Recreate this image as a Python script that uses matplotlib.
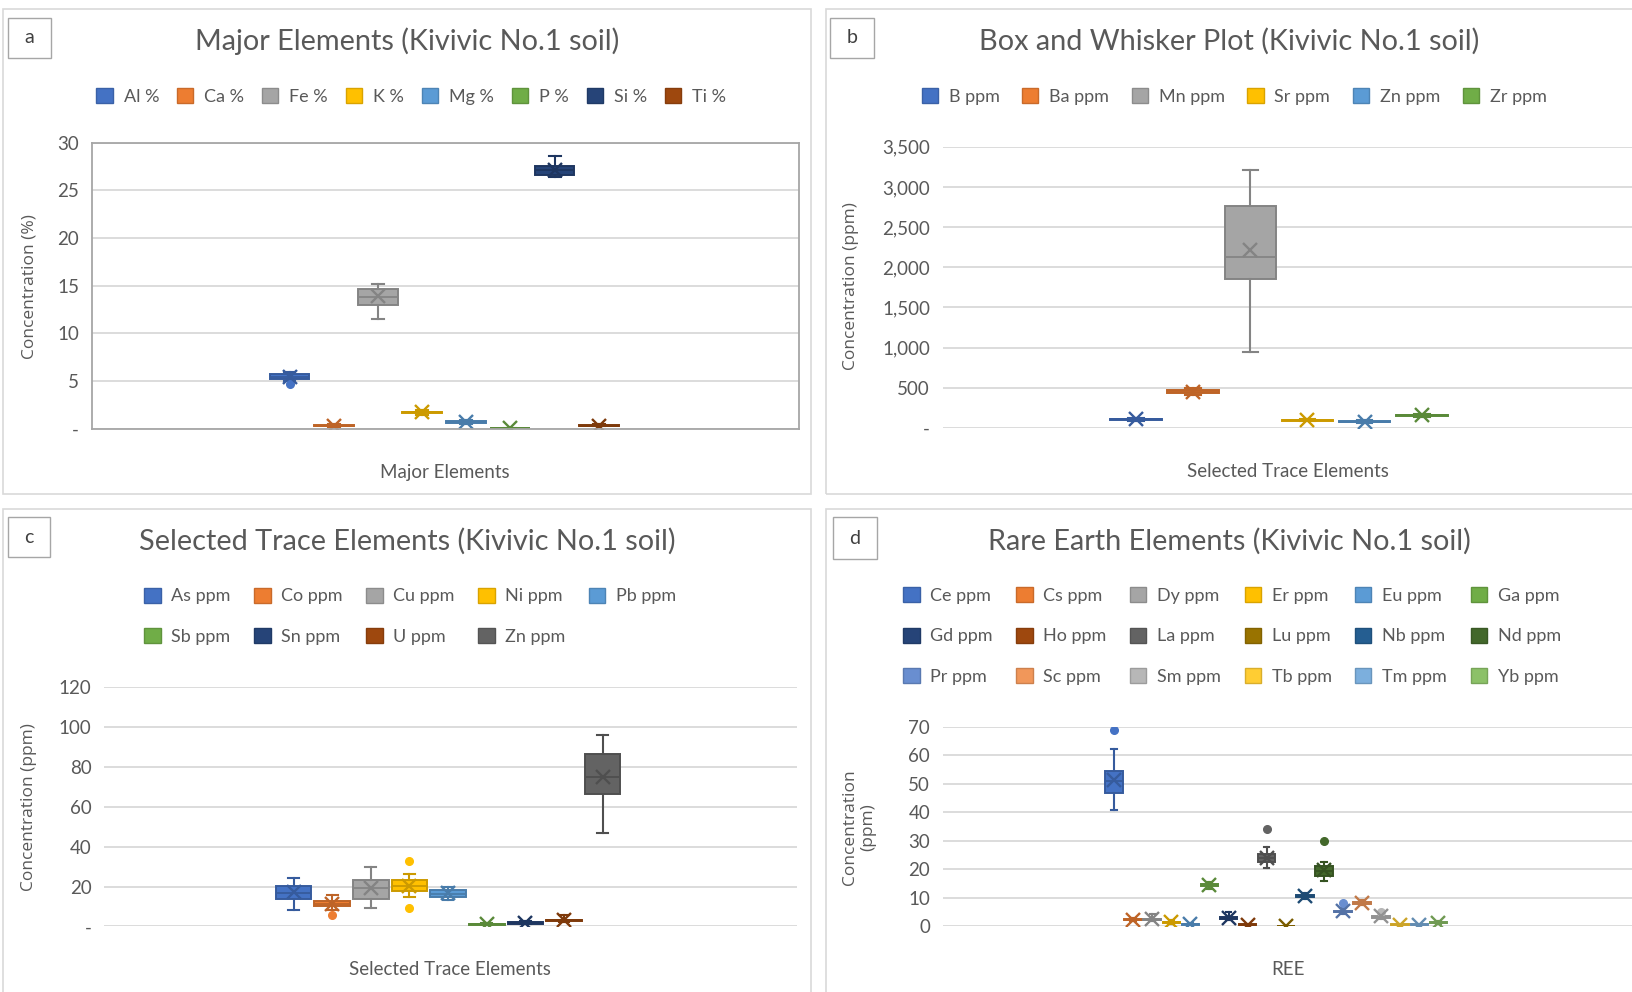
import numpy as np
import matplotlib
matplotlib.use('Agg')
import matplotlib.pyplot as plt
import matplotlib.colors as mcolors
from matplotlib.patches import Rectangle, Patch
from matplotlib.ticker import FuncFormatter, MultipleLocator

plt.rcParams['font.family'] = ['Lato', 'DejaVu Sans']
TXT = '#595959'
GRID = '#D9D9D9'

# ---- panel a : major elements (%)
maj_names = ['Al %', 'Ca %', 'Fe %', 'K %', 'Mg %', 'P %', 'Si %', 'Ti %']
maj_colors = ['#4472C4', '#ED7D31', '#A5A5A5', '#FFC000', '#5B9BD5', '#70AD47', '#264478', '#9E480E']
maj_lo = [5.0, 0.2, 11.5, 1.5, 0.5, 0.03, 26.4, 0.25]
maj_q1 = [5.2, 0.3, 13.0, 1.65, 0.62, 0.05, 26.6, 0.3]
maj_med = [5.4, 0.35, 13.8, 1.72, 0.7, 0.07, 27.1, 0.35]
maj_q3 = [5.7, 0.42, 14.7, 1.8, 0.78, 0.09, 27.5, 0.42]
maj_hi = [6.0, 0.5, 15.2, 1.95, 0.9, 0.12, 28.6, 0.5]
maj_mean = [5.4, 0.35, 13.9, 1.72, 0.7, 0.07, 27.1, 0.35]
maj_fliers = [[4.7], [], [], [], [], [], [], []]

# ---- panel b : selected trace elements (ppm)
trb_names = ['B ppm', 'Ba ppm', 'Mn ppm', 'Sr ppm', 'Zn ppm', 'Zr ppm']
trb_colors = ['#4472C4', '#ED7D31', '#A5A5A5', '#FFC000', '#5B9BD5', '#70AD47']
trb_lo = [85, 410, 940, 80, 55, 135]
trb_q1 = [95, 435, 1850, 90, 68, 148]
trb_med = [104, 450, 2130, 96, 75, 155]
trb_q3 = [112, 465, 2765, 103, 82, 162]
trb_hi = [125, 490, 3210, 115, 95, 175]
trb_mean = [104, 450, 2215, 96, 75, 155]
trb_fliers = [[], [], [], [], [], []]

# ---- panel c : selected trace elements (ppm)
trc_names = ['As ppm', 'Co ppm', 'Cu ppm', 'Ni ppm', 'Pb ppm', 'Sb ppm', 'Sn ppm', 'U ppm', 'Zn ppm']
trc_colors = ['#4472C4', '#ED7D31', '#A5A5A5', '#FFC000', '#5B9BD5', '#70AD47', '#264478', '#9E480E', '#636363']
trc_lo = [8.1, 8.3, 9.1, 14.9, 13.0, 0.5, 1.0, 2.0, 47.0]
trc_q1 = [13.7, 10.0, 13.9, 17.7, 14.7, 0.8, 1.4, 2.6, 66.4]
trc_med = [17.0, 11.3, 19.3, 20.1, 16.5, 1.0, 1.7, 3.0, 74.9]
trc_q3 = [20.3, 12.7, 23.4, 23.4, 18.5, 1.2, 2.0, 3.4, 86.2]
trc_hi = [24.3, 15.5, 30.0, 26.2, 19.6, 1.6, 2.5, 5.8, 96.1]
trc_mean = [17.2, 11.0, 19.3, 20.3, 16.6, 1.0, 1.7, 3.2, 75.0]
trc_fliers = [[], [5.9], [], [33.0, 9.1], [], [], [], [], []]

# ---- panel d : rare earth elements (ppm)
ree_names = ['Ce ppm', 'Cs ppm', 'Dy ppm', 'Er ppm', 'Eu ppm', 'Ga ppm',
             'Gd ppm', 'Ho ppm', 'La ppm', 'Lu ppm', 'Nb ppm', 'Nd ppm',
             'Pr ppm', 'Sc ppm', 'Sm ppm', 'Tb ppm', 'Tm ppm', 'Yb ppm']
ree_colors = ['#4472C4', '#ED7D31', '#A5A5A5', '#FFC000', '#5B9BD5', '#70AD47',
              '#264478', '#9E480E', '#636363', '#997300', '#255E91', '#43682B',
              '#698ED0', '#F1975A', '#B7B7B7', '#FFCD33', '#7CAFDD', '#8CC168']
ree_lo = [40.7, 1.8, 1.8, 1.0, 0.4, 13.2, 2.2, 0.3, 20.5, 0.1, 9.5, 16.0, 4.5, 7.5, 2.6, 0.3, 0.3, 0.9]
ree_q1 = [46.9, 2.2, 2.1, 1.3, 0.6, 14.0, 2.7, 0.5, 22.4, 0.15, 10.2, 17.7, 5.0, 8.0, 3.1, 0.5, 0.5, 1.1]
ree_med = [51.0, 2.4, 2.4, 1.5, 0.7, 14.4, 3.0, 0.6, 23.9, 0.2, 10.5, 19.5, 5.2, 8.2, 3.4, 0.6, 0.6, 1.3]
ree_q3 = [54.3, 2.6, 2.7, 1.7, 0.8, 14.8, 3.4, 0.7, 25.4, 0.25, 10.9, 21.0, 5.5, 8.5, 3.7, 0.7, 0.7, 1.5]
ree_hi = [62.2, 3.0, 4.2, 2.2, 1.1, 15.6, 5.0, 1.0, 27.7, 0.3, 11.8, 22.5, 6.5, 9.2, 4.3, 0.9, 0.9, 1.8]
ree_mean = [51.3, 2.4, 2.5, 1.5, 0.7, 14.4, 3.1, 0.6, 24.1, 0.2, 10.6, 19.6, 5.4, 8.3, 3.5, 0.6, 0.6, 1.3]
ree_fliers = [[68.9], [], [], [], [], [], [], [], [34.0], [], [], [29.9], [8.1], [], [5.0], [], [], []]

W, H = 1633, 992
fig = plt.figure(figsize=(W / 100, H / 100), dpi=100)


def frac(x0, y0, x1, y1):
    # coords measured on a 1568x953 copy of the reference
    return [x0 / 1568, 1 - y1 / 953, (x1 - x0) / 1568, (y1 - y0) / 953]


def darken(c, f=0.8):
    r, g, b = mcolors.to_rgb(c)
    return (r * f, g * f, b * f)


def panel_frame(x0, y0, x1, y1, letter, lx0, ly0, lx1, ly1, title, tx, ty):
    l, b, w, h = frac(x0, y0, x1, y1)
    fig.patches.append(Rectangle((l, b), w, h, transform=fig.transFigure,
                                 fill=False, ec='#D9D9D9', lw=1.2))
    l, b, w, h = frac(lx0, ly0, lx1, ly1)
    fig.patches.append(Rectangle((l, b), w, h, transform=fig.transFigure,
                                 fill=False, ec='#A6A6A6', lw=1.0))
    fig.text(l + w / 2, b + h / 2, letter, ha='center', va='center', fontsize=14, color='#404040')
    fig.text(tx / 1568, 1 - ty / 953, title, ha='center', va='center', fontsize=20.8, color=TXT)


def boxes(ax, colors, lo, q1, med, q3, hi, mean, fliers, width):
    stats = [dict(whislo=a, q1=b, med=c, q3=d, whishi=e, mean=m, fliers=f)
             for a, b, c, d, e, m, f in zip(lo, q1, med, q3, hi, mean, fliers)]
    pos = np.arange(len(stats))
    art = ax.bxp(stats, positions=pos, widths=width, capwidths=width * 0.3,
                 patch_artist=True, showmeans=True, manage_ticks=False)
    for i, c in enumerate(colors):
        dk = darken(c)
        art['boxes'][i].set(facecolor=c, edgecolor=dk, linewidth=1.4)
        art['medians'][i].set(color=dk, lw=1.3)
        for ln in art['whiskers'][2 * i:2 * i + 2] + art['caps'][2 * i:2 * i + 2]:
            ln.set(color=dk, lw=1.5)
        art['means'][i].set(marker='x', markeredgecolor=dk, markersize=10.5, markeredgewidth=1.7)
        art['fliers'][i].set(marker='o', markerfacecolor=c, markeredgecolor=c, markersize=5.5)


def style_axes(ax, ylim, step, zero, xlabel, xlim, labelpad):
    ax.set_ylim(*ylim)
    ax.set_xlim(*xlim)
    ax.yaxis.set_major_locator(MultipleLocator(step))
    ax.yaxis.set_major_formatter(FuncFormatter(lambda v, p: zero if v == 0 else f'{v:,.0f}'))
    ax.set_xticks([])
    ax.tick_params(axis='y', length=0, pad=9, labelsize=13.5, labelcolor=TXT)
    ax.grid(axis='y', color=GRID, lw=1.3)
    ax.set_axisbelow(True)
    for s in ax.spines.values():
        s.set_visible(False)
    ax.set_xlabel(xlabel, fontsize=13.5, color=TXT, labelpad=labelpad)


def ylabel(x, y, text):
    fig.text(x / 1568, 1 - y / 953, text, rotation=90, ha='center', va='center',
             fontsize=12.5, color=TXT, family=['Open Sans', 'DejaVu Sans'], linespacing=1.25)


def legend(names, colors, ncol, cx, cy, colspace, order=None):
    hs = [Patch(facecolor=c, edgecolor=darken(c, 0.85), lw=1.0) for c in colors]
    labs = list(names)
    if order is not None:
        hs = [hs[i] for i in order]
        labs = [labs[i] for i in order]
    fig.legend(hs, labs, loc='center', bbox_to_anchor=(cx / 1568, 1 - cy / 953),
               ncol=ncol, frameon=False, fontsize=13, labelcolor=TXT,
               handlelength=0.9, handleheight=0.9, handletextpad=0.6,
               columnspacing=colspace, labelspacing=1.32, borderpad=0)


# panel a
panel_frame(3, 9, 779, 475, 'a', 8, 17, 49, 56, 'Major Elements (Kivivic No.1 soil)', 391, 40)
axa = fig.add_axes(frac(88, 137, 767, 412))
boxes(axa, maj_colors, maj_lo, maj_q1, maj_med, maj_q3, maj_hi, maj_mean, maj_fliers, 0.9)
style_axes(axa, (0, 30), 5, '-', 'Major Elements', (-4.48, 11.53), 25)
for s in axa.spines.values():
    s.set_visible(True)
    s.set_color('#A6A6A6')
    s.set_linewidth(1.3)
ylabel(28, 275, 'Concentration (%)')
legend(maj_names, maj_colors, 8, 395, 93, 1.0)

# panel b
panel_frame(793, 9, 1600, 475, 'b', 797, 17, 839, 56, 'Box and Whisker Plot (Kivivic No.1 soil)', 1180, 40)
axb = fig.add_axes(frac(905, 141, 1568, 411))
boxes(axb, trb_colors, trb_lo, trb_q1, trb_med, trb_q3, trb_hi, trb_mean, trb_fliers, 0.9)
style_axes(axb, (0, 3500), 500, '-', 'Selected Trace Elements', (-3.38, 8.69), 25)
ylabel(817, 275, 'Concentration (ppm)')
legend(trb_names, trb_colors, 6, 1185, 93, 1.25)

# panel c
panel_frame(3, 489, 779, 1000, 'c', 8, 497, 48, 535, 'Selected Trace Elements (Kivivic No.1 soil)', 391, 520)
axc = fig.add_axes(frac(100, 660, 765, 890))
boxes(axc, trc_colors, trc_lo, trc_q1, trc_med, trc_q3, trc_hi, trc_mean, trc_fliers, 0.92)
style_axes(axc, (0, 120), 20, '-', 'Selected Trace Elements', (-4.9, 13.02), 25)
ylabel(28, 775, 'Concentration (ppm)')
legend(trc_names, trc_colors, 5, 394, 592, 1.3, order=[0, 5, 1, 6, 2, 7, 3, 8, 4])

# panel d
panel_frame(793, 489, 1600, 1000, 'd', 800, 497, 842, 537, 'Rare Earth Elements (Kivivic No.1 soil)', 1180, 520)
axd = fig.add_axes(frac(905, 698, 1568, 890))
boxes(axd, ree_colors, ree_lo, ree_q1, ree_med, ree_q3, ree_hi, ree_mean, ree_fliers, 0.92)
style_axes(axd, (0, 70), 10, '0', 'REE', (-8.99, 27.2), 25)
ylabel(825, 795, 'Concentration\n(ppm)')
ree_order = [r * 6 + c for c in range(6) for r in range(3)]
legend(ree_names, ree_colors, 6, 1183, 611, 1.3, order=ree_order)

fig.savefig('out.png', dpi=100)
